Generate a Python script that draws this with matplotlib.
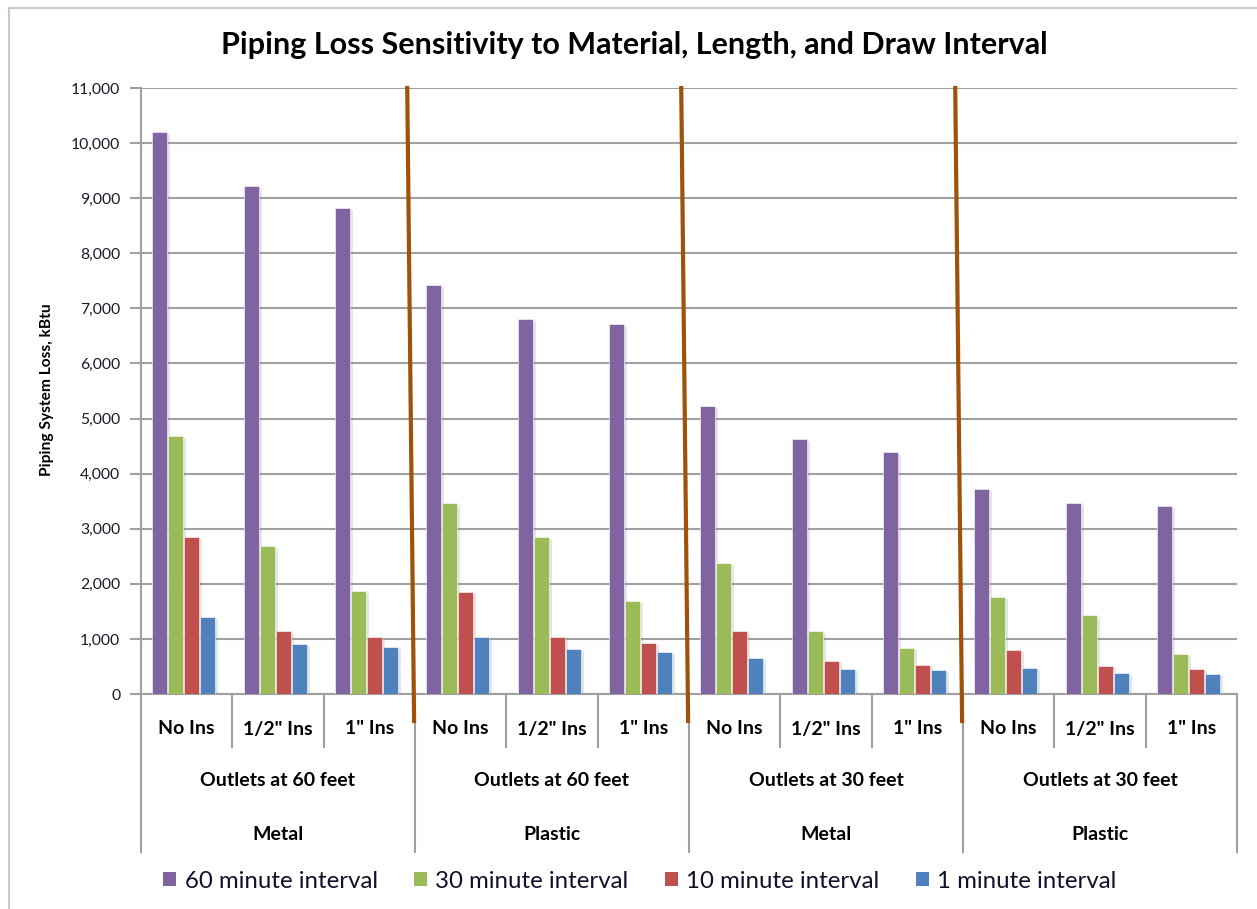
import matplotlib
matplotlib.use("Agg")
import matplotlib.pyplot as plt
import matplotlib.patheffects as pe
from matplotlib.lines import Line2D
from matplotlib.patches import Patch
import numpy as np

plt.rcParams['font.family'] = ['Lato', 'DejaVu Sans']

# ---------------- data ----------------
categories = ['No Ins', '1/2" Ins', '1" Ins'] * 4
lengths = ['Outlets at 60 feet', 'Outlets at 60 feet', 'Outlets at 30 feet', 'Outlets at 30 feet']
materials = ['Metal', 'Plastic', 'Metal', 'Plastic']
series_names = ['60 minute interval', '30 minute interval', '10 minute interval', '1 minute interval']
interval_60 = [10200, 9230, 8830, 7420, 6815, 6720, 5235, 4635, 4385, 3715, 3460, 3410]
interval_30 = [4680, 2695, 1870, 3460, 2845, 1695, 2372, 1150, 830, 1755, 1428, 735]
interval_10 = [2845, 1150, 1030, 1850, 1030, 930, 1150, 605, 532, 805, 508, 455]
interval_1 = [1395, 905, 853, 1030, 810, 757, 653, 460, 430, 477, 381, 357]
yticks = list(range(0, 11001, 1000))

colors = ['#8064A2', '#9BBB59', '#C0504D', '#4F81BD']
series = [interval_60, interval_30, interval_10, interval_1]

W, H = 1257, 909
fig = plt.figure(figsize=(W / 100, H / 100), dpi=100)
ax_l, ax_r, ax_t, ax_b = 141, 1237, 88, 694
ax = fig.add_axes([ax_l / W, (H - ax_b) / H, (ax_r - ax_l) / W, (ax_b - ax_t) / H])

x = np.arange(len(categories))
bw = 0.165
step = 0.175
shadow = [pe.SimplePatchShadow(offset=(2, -1.5), shadow_rgbFace='#8a8a8a', alpha=0.22), pe.Normal()]
for i, (vals, c) in enumerate(zip(series, colors)):
    bars = ax.bar(x + (i - 1.5) * step - 0.03, vals, width=bw, color=c, zorder=3,
                  edgecolor='white', linewidth=0.4)
    for b in bars:
        b.set_path_effects(shadow)

ax.set_xlim(-0.5, len(categories) - 0.5)
ax.set_ylim(0, 11000)
ax.set_yticks(yticks)
ax.set_yticklabels([f'{v:,}' for v in yticks])
ax.yaxis.grid(True, color='#a0a0a0', linewidth=1.5, zorder=0)
ax.set_axisbelow(True)
for s in ['top', 'right']:
    ax.spines[s].set_visible(False)
ax.spines['left'].set_color('#a0a0a0')
ax.spines['left'].set_linewidth(1.5)
ax.spines['bottom'].set_color('#a0a0a0')
ax.spines['bottom'].set_linewidth(1.5)
ax.tick_params(axis='y', length=8, width=1.5, color='#a0a0a0', pad=7,
               labelsize=11.3, labelcolor='#1a1a2a')
ax.set_xticks([])

fig.text(47 / W, 1 - 390 / H, 'Piping System Loss, kBtu', rotation=90, ha='center', va='center',
         fontsize=11.2, fontweight='bold', color='black')

# multi-level category axis
axh = ax_b - ax_t
def ay(py):
    return -(py - ax_b) / axh

trans = ax.get_xaxis_transform()
sep_col = '#a0a0a0'
for k in range(len(categories) + 1):
    xb = k - 0.5
    y_end = ay(852) if k % 3 == 0 else ay(747)
    ax.add_line(Line2D([xb, xb], [0, y_end], transform=trans, color=sep_col, lw=1.5, clip_on=False))
for k, lab in enumerate(categories):
    ax.text(k, ay(729), lab, transform=trans, ha='center', va='center',
            fontsize=14, fontweight='bold', color='black')
for g in range(4):
    ax.text(3 * g + 1, ay(781), lengths[g], transform=trans, ha='center', va='center',
            fontsize=14, fontweight='bold', color='black')
    ax.text(3 * g + 1, ay(834), materials[g], transform=trans, ha='center', va='center',
            fontsize=14, fontweight='bold', color='black')

# brown divider lines
for g in range(1, 4):
    xb = 3 * g - 0.5
    ax.add_line(Line2D([xb - 0.085, xb - 0.01], [1.0, ay(721)], transform=trans,
                       color='#A0520C', lw=3, clip_on=False, zorder=5))

fig.suptitle('Piping Loss Sensitivity to Material, Length, and Draw Interval',
             x=0.505, y=1 - 45 / H, va='center', fontsize=22, fontweight='bold', color='black')

handles = [Patch(facecolor=c, edgecolor='none') for c in colors]
fig.legend(handles, series_names, loc='center', bbox_to_anchor=(0.509, 1 - 881 / H), ncol=4,
           frameon=False, fontsize=17.3, handlelength=0.55, handleheight=0.55, handletextpad=0.35,
           columnspacing=1.5, labelcolor='#10102a')

# chart border (left and top visible)
fig.add_artist(Line2D([9 / W, 9 / W], [0, 1 - 8 / H], transform=fig.transFigure, color='#c8c8c8', lw=1.5))
fig.add_artist(Line2D([9 / W, 1], [1 - 8 / H, 1 - 8 / H], transform=fig.transFigure, color='#c8c8c8', lw=1.5))

fig.savefig('out.png', dpi=100)
